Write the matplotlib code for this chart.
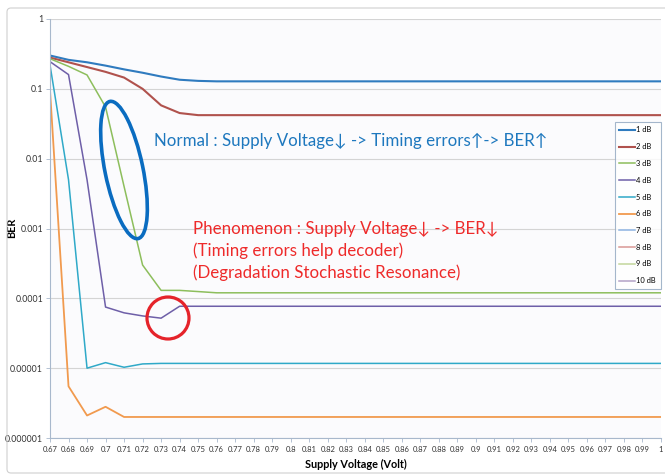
import numpy as np
import matplotlib
matplotlib.use("Agg")
import matplotlib.pyplot as plt
import matplotlib.transforms as mtransforms
from matplotlib.patches import Ellipse, Circle, FancyBboxPatch

# supply voltage (x categories)
voltage = [0.67, 0.68, 0.69, 0.70, 0.71, 0.72, 0.73, 0.74, 0.75, 0.76, 0.77, 0.78,
           0.79, 0.80, 0.81, 0.82, 0.83, 0.84, 0.85, 0.86, 0.87, 0.88, 0.89, 0.90,
           0.91, 0.92, 0.93, 0.94, 0.95, 0.96, 0.97, 0.98, 0.99, 1.00]

# BER per SNR
ber_1db = [0.30, 0.26, 0.24, 0.215, 0.19, 0.17, 0.15, 0.135, 0.13] + [0.128] * 25
ber_2db = [0.28, 0.24, 0.205, 0.175, 0.145, 0.10, 0.058, 0.045, 0.042] + [0.042] * 25
ber_3db = [0.27, 0.21, 0.158, 0.055, 0.004, 0.0003, 0.00013, 0.00013, 0.000125] + [0.00012] * 25
ber_4db = [0.245, 0.16, 0.005, 7.5e-5, 6.2e-5, 5.6e-5, 5.2e-5, 7.7e-5, 7.7e-5] + [7.7e-5] * 25
ber_5db = [0.22, 0.005, 1.0e-5, 1.2e-5, 1.03e-5, 1.15e-5, 1.17e-5, 1.17e-5, 1.17e-5] + [1.17e-5] * 25
ber_6db = [0.096, 5.5e-6, 2.1e-6, 2.8e-6, 2.0e-6, 2.0e-6, 2.0e-6, 2.0e-6, 2.0e-6] + [2.0e-6] * 25
# 7..10 dB: no errors, nothing shown on the log axis
ber_7db = []
ber_8db = []
ber_9db = []
ber_10db = []

series = [("1 dB", ber_1db), ("2 dB", ber_2db), ("3 dB", ber_3db), ("4 dB", ber_4db),
          ("5 dB", ber_5db), ("6 dB", ber_6db), ("7 dB", ber_7db), ("8 dB", ber_8db),
          ("9 dB", ber_9db), ("10 dB", ber_10db)]
colors = ['#2F7BBF', '#B0524D', '#8DBE5C', '#6E5FA8', '#2FA9C8', '#F19A4E',
          '#8DB3E2', '#D99795', '#C3D69B', '#B3A2C7']
widths = [1.5, 1.5, 1.1, 1.1, 1.1, 1.3, 1.1, 1.1, 1.1, 1.1]

ytick_vals = [1, 0.1, 0.01, 0.001, 0.0001, 0.00001, 0.000001]
ytick_labels = ["1", "0.1", "0.01", "0.001", "0.0001", "0.00001", "0.000001"]
xtick_labels = ["%g" % v for v in voltage]

W, H, DPI = 665, 476, 100
font = ['Lato', 'DejaVu Sans']
plt.rcParams['font.family'] = font

fig = plt.figure(figsize=(W / DPI, H / DPI), dpi=DPI)
fig.patch.set_facecolor('white')
# pixel coordinates, origin top-left
px = mtransforms.Affine2D().scale(1, -1).translate(0, H).scale(1.0 / DPI) + fig.dpi_scale_trans

# chart area border
fig.patches.append(FancyBboxPatch((7, 8), 680, 465, boxstyle="round,pad=0,rounding_size=4",
                                  transform=px, facecolor='none', edgecolor='#D0D0D0', lw=0.8))

ax = fig.add_axes([50 / W, 1 - 438 / H, 611 / W, (438 - 19) / H])
ax.set_facecolor('#FBFBFD')
ax.set_yscale('log')

for (label, vals), c, lw in zip(series, colors, widths):
    ax.plot(voltage[:len(vals)], vals, color=c, lw=lw, label=label, solid_joinstyle='round')

ax.set_xlim(0.67, 1.0)
ax.set_ylim(1e-6, 1)
ax.set_xticks(voltage)
ax.set_xticklabels(xtick_labels)
ax.set_yticks(ytick_vals)
ax.set_yticklabels(ytick_labels)
ax.minorticks_off()
ax.yaxis.grid(True, color='#D4D4D4', lw=0.8)
ax.set_axisbelow(True)
ax.tick_params(axis='both', colors='#A8B8CC', labelcolor='#333333',
               length=3, width=0.6, pad=2)
ax.tick_params(axis='y', labelsize=6.3)
ax.tick_params(axis='x', labelsize=5.5, pad=3)
for s in ['top', 'right']:
    ax.spines[s].set_visible(False)
for s in ['left', 'bottom']:
    ax.spines[s].set_color('#A8B8CC')
    ax.spines[s].set_linewidth(0.8)

ax.set_xlabel("Supply Voltage (Volt)", fontsize=7.8, fontweight='bold', labelpad=4)
ax.set_ylabel("BER", fontsize=7.8, fontweight='bold')
ax.yaxis.set_label_coords(17, 228, transform=px)

leg = ax.legend(loc='upper right', bbox_to_anchor=(660.5 / W, 1 - 122 / H),
                bbox_transform=fig.transFigure, fontsize=5.4, frameon=True, fancybox=False,
                handlelength=2.1, handletextpad=0.2, labelspacing=1.3,
                borderpad=0.6, borderaxespad=0)
leg.get_frame().set_edgecolor('#8EA5BF')
leg.get_frame().set_linewidth(0.8)
leg.get_frame().set_facecolor('white')

# annotations
fig.patches.append(Ellipse((124, 170), 38, 140, angle=-11.6, transform=px,
                           fill=False, edgecolor='#0A6CC0', lw=2.6))
fig.patches.append(Circle((168, 318), 21, transform=px,
                          fill=False, edgecolor='#E5232A', lw=2.3))

fig.text(154, 141, "Normal : Supply Voltage\u2193 -> Timing errors\u2191-> BER\u2191",
         transform=px, color='#1E78BE', fontsize=12.2, va='center', ha='left', family=font)
red_lines = ["Phenomenon : Supply Voltage\u2193 -> BER\u2193",
             "(Timing errors help decoder)",
             "(Degradation Stochastic Resonance)"]
for i, t in enumerate(red_lines):
    fig.text(193, 229 + 22 * i, t, transform=px, color='#EE2A2A', fontsize=12.2,
             va='center', ha='left', family=font)

fig.savefig("out.png", dpi=DPI)
